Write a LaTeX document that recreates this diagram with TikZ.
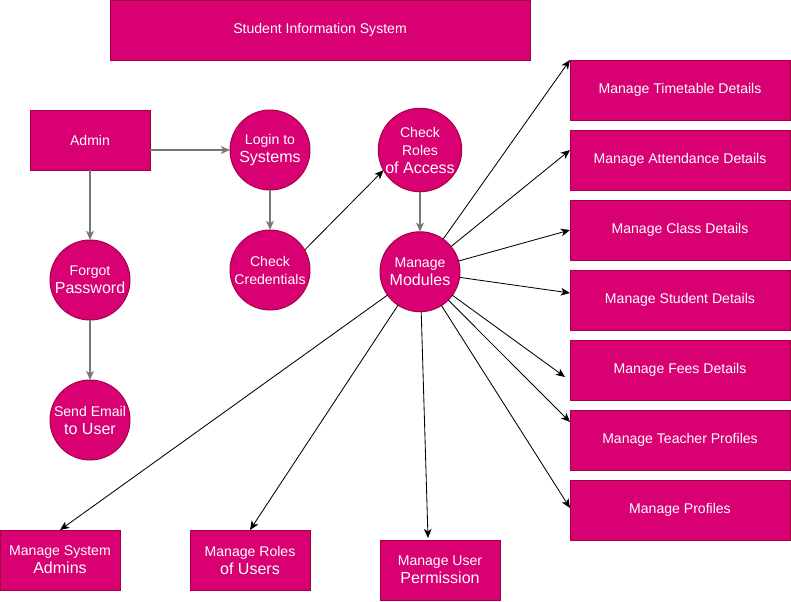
\documentclass[tikz,border=0pt]{standalone}
\usepackage{fontspec}
\setmainfont{Liberation Sans}
\usepackage{tikz}
\usetikzlibrary{shapes,arrows.meta,positioning,calc}
\definecolor{pinkfill}{HTML}{D80073}
\definecolor{pinkline}{HTML}{A50040}
\definecolor{flowgray}{HTML}{777777}
\newcommand{\bigline}[1]{{\fontsize{11.4}{13}\selectfont #1}}

\begin{document}
\begin{tikzpicture}[
    node distance=0.25cm,
    box/.style={rectangle, draw=pinkline, fill=pinkfill, line width=0.7pt, text=white, align=center, inner sep=0pt, outer sep=0pt, minimum width=3cm, minimum height=1.5cm, font=\fontsize{10}{12.8}\selectfont},
    widebox/.style={box, minimum width=5.5cm},
    circ/.style={circle, draw=pinkline, fill=pinkfill, line width=0.7pt, text=white, align=center, inner sep=0pt, outer sep=0pt, minimum size=2cm, font=\fontsize{10}{12.8}\selectfont},
    flow/.style={-{Stealth[length=6.5pt, width=5.5pt, inset=1.8pt]}, draw=flowgray, line width=1.4pt},
    link/.style={-{Stealth[length=6.5pt, width=5.5pt, inset=1.8pt]}, draw=black, line width=0.6pt}
]
    \useasboundingbox (0,0) rectangle (19.775,-15.025);

    \node[box, minimum width=10.5cm] (title) at (8,-0.75) {Student Information System};

    % left column
    \node[box] (admin) at (2.25,-3.5) {Admin};
    \node[circ, below=1.75cm of admin] (forgot) {Forgot\\\bigline{Password}};
    \node[circ, below=1.5cm of forgot] (email) {Send Email\\\bigline{to User}};

    % login chain
    \node[circ] (login) at (6.75,-3.75) {Login to\\\bigline{Systems}};
    \node[circ, below=1cm of login] (cred) {Check\\Credentials};
    \node[circ] (roles) at (10.5,-3.75) {Check\\Roles\\\bigline{of Access}};
    \node[circ, below=1cm of roles] (mods) {Manage\\\bigline{Modules}};

    % modules on the right
    \node[widebox] (tt) at (17,-2.25) {Manage Timetable Details};
    \node[widebox, below=of tt] (att) {Manage Attendance Details};
    \node[widebox, below=of att] (cls) {Manage Class Details};
    \node[widebox, below=of cls] (stu) {Manage Student Details};
    \node[widebox, below=of stu] (fees) {Manage Fees Details};
    \node[widebox, below=of fees] (tch) {Manage Teacher Profiles};
    \node[widebox, below=of tch] (prof) {Manage Profiles};

    % modules at the bottom
    \node[box] (sysadm) at (1.5,-14) {Manage System\\\bigline{Admins}};
    \node[box] (usrroles) at (6.25,-14) {Manage Roles\\\bigline{of Users}};
    \node[box] (perm) at (11,-14.25) {Manage User\\\bigline{Permission}};

    % connectors
    \draw[flow] (admin.east |- login.west) -- (login.west);
    \draw[flow] (admin) -- (forgot);
    \draw[flow] (forgot) -- (email);
    \draw[flow] (login) -- (cred);
    \draw[link] (cred.30) -- (roles.209);
    \draw[flow] (roles) -- (mods);

    \draw[link] (mods) -- (tt.north west);
    \draw[link] (mods) -- ([yshift=0.25cm]att.west);
    \draw[link] (mods) -- (cls.west);
    \draw[link] (mods) -- ([yshift=0.175cm]stu.west);
    \draw[link] (mods) -- ([xshift=-0.125cm, yshift=-0.175cm]fees.west);
    \draw[link] (mods) -- ([yshift=0.45cm]tch.west);
    \draw[link] (mods) -- ([yshift=0.05cm]prof.west);
    \draw[link] (mods) -- (sysadm.north);
    \draw[link] (mods) -- (usrroles.north);
    \draw[link] (mods) -- ([xshift=-0.3cm, yshift=0.05cm]perm.north);
\end{tikzpicture}
\end{document}
